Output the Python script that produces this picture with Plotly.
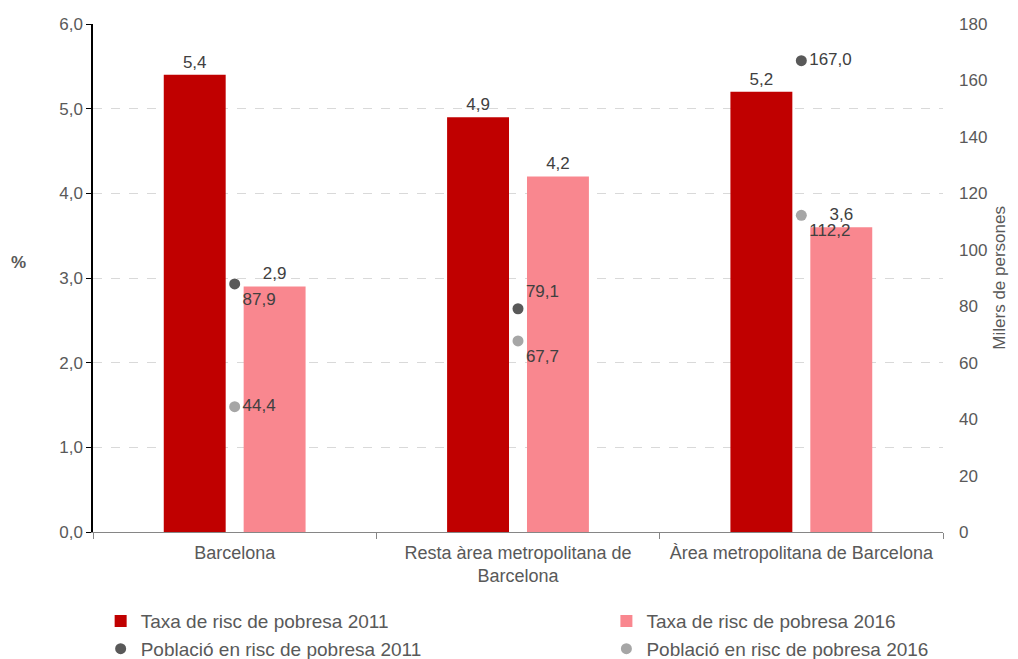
import plotly.graph_objects as go

categories = ["Barcelona", "Resta àrea metropolitana de<br>Barcelona", "Àrea metropolitana de Barcelona"]
rate_2011 = [5.4, 4.9, 5.2]
rate_2016 = [2.9, 4.2, 3.6]
pop_2011 = [87.9, 79.1, 167.0]
pop_2016 = [44.4, 67.7, 112.2]
left_ticks = [0, 1, 2, 3, 4, 5, 6]
right_ticks = [0, 20, 40, 60, 80, 100, 120, 140, 160, 180]

FONT = "Liberation Sans, Arial, sans-serif"
TXT = "#404040"
AX = "#595959"

fig = go.Figure()
fig.add_bar(x=categories, y=rate_2011, name="Taxa de risc de pobresa 2011",
            marker=dict(color="#C00000", line=dict(width=0)),
            texttemplate="%{y:.1f}", textposition="outside",
            textfont=dict(size=17, color=TXT), cliponaxis=False, legend="legend")
fig.add_bar(x=categories, y=rate_2016, name="Taxa de risc de pobresa 2016",
            marker=dict(color="#F9878F", line=dict(width=0)),
            texttemplate="%{y:.1f}", textposition="outside",
            textfont=dict(size=17, color=TXT), cliponaxis=False, legend="legend2")
fig.add_scatter(x=categories, y=pop_2011, yaxis="y2", mode="markers+text",
                name="Població en risc de pobresa 2011",
                marker=dict(size=11, color="#595959"),
                texttemplate="%{y:.1f}", textposition=["bottom right", "top right", "middle right"],
                textfont=dict(size=17, color=TXT), cliponaxis=False, legend="legend")
fig.add_scatter(x=categories, y=pop_2016, yaxis="y2", mode="markers+text",
                name="Població en risc de pobresa 2016",
                marker=dict(size=11, color="#A6A6A6"),
                texttemplate="%{y:.1f}", textposition=["middle right", "bottom right", "bottom right"],
                textfont=dict(size=17, color=TXT), cliponaxis=False, legend="legend2")

fig.update_layout(
    width=1002, height=651,
    margin=dict(l=85, r=67, t=16, b=127, autoexpand=False),
    paper_bgcolor="white", plot_bgcolor="white",
    font=dict(family=FONT, size=17, color=AX),
    separators=",.",
    barmode="group", bargap=0.436, bargroupgap=0.225,
    xaxis=dict(showline=True, linecolor="#868686", linewidth=1,
               ticks="outside", tickson="boundaries", ticklen=6, tickcolor="#868686",
               tickangle=0, ticklabelstandoff=4,
               tickfont=dict(size=18, color=AX), showgrid=False),
    yaxis=dict(range=[0, 6], tickvals=left_ticks, tickformat=".1f",
               showgrid=True, gridcolor="#D9D9D9", griddash="dash", gridwidth=1,
               showline=True, linecolor="black", linewidth=1.5,
               ticks="outside", ticklen=5, tickcolor="black",
               zeroline=False, tickfont=dict(size=17, color=AX)),
    yaxis2=dict(overlaying="y", side="right", range=[0, 180], tickvals=right_ticks,
                showgrid=False, showline=False, ticks="", zeroline=False,
                ticklabelstandoff=15,
                tickfont=dict(size=17, color=AX)),
    legend=dict(orientation="v", x=0.009, y=-0.138, xanchor="left", yanchor="top",
                font=dict(size=19, color=AX), bgcolor="rgba(0,0,0,0)"),
    legend2=dict(orientation="v", x=0.604, y=-0.138, xanchor="left", yanchor="top",
                 font=dict(size=19, color=AX), bgcolor="rgba(0,0,0,0)"),
    annotations=[
        dict(text="<b>%</b>", x=-0.088, y=0.531, xref="paper", yref="paper",
             xanchor="center", yanchor="middle",
             showarrow=False, font=dict(size=17, color=AX)),
        dict(text="Milers de persones", x=1.0655, y=0.5, xref="paper", yref="paper",
             xanchor="center", yanchor="middle",
             textangle=-90, showarrow=False, font=dict(size=17, color=AX)),
    ],
)

fig.write_html("out.html")
